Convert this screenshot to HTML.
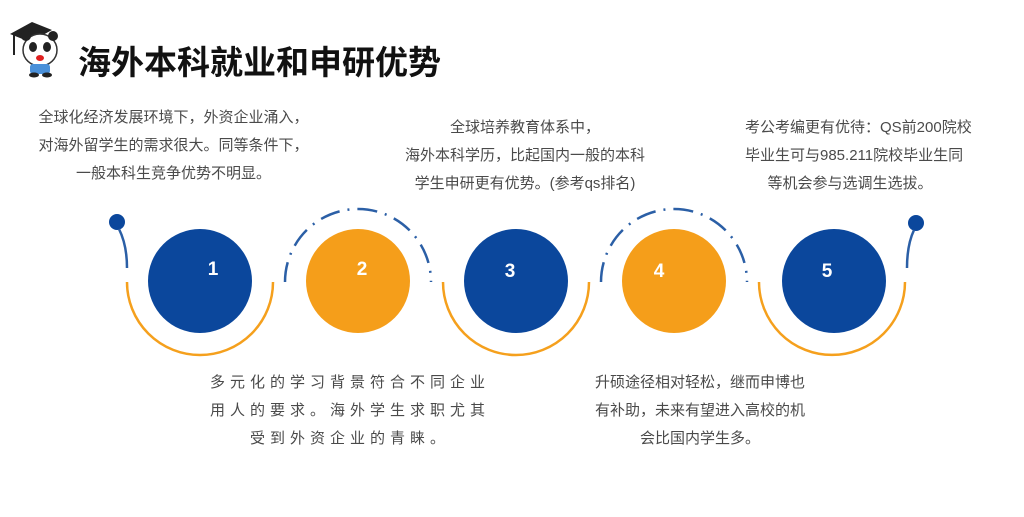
<!DOCTYPE html>
<html><head><meta charset="utf-8"><style>
body{margin:0;width:1024px;height:517px;background:#fff;overflow:hidden;position:relative;font-family:"Liberation Sans","Noto Sans CJK SC",sans-serif;}
.t{position:absolute;color:#4a4a4a;font-size:15px;line-height:28px;text-align:center;white-space:nowrap;}
</style></head><body>
<svg width="1024" height="517" style="position:absolute;left:0;top:0">
  <g>
    <polygon points="10,34 32,22 52,30 30,42" fill="#222"/>
    <line x1="14" y1="35" x2="14" y2="55" stroke="#222" stroke-width="2"/>
    <ellipse cx="40" cy="50" rx="17" ry="16" fill="#fff" stroke="#333" stroke-width="1.5"/>
    <circle cx="26" cy="36" r="5" fill="#222"/><circle cx="53" cy="36" r="5" fill="#222"/>
    <ellipse cx="33" cy="47" rx="4" ry="5" fill="#222"/><ellipse cx="47" cy="47" rx="4" ry="5" fill="#222"/>
    <ellipse cx="40" cy="58" rx="4" ry="3" fill="#e02020"/>
    <rect x="30" y="64" width="20" height="10" rx="3" fill="#4a90d9"/>
    <ellipse cx="34" cy="75" rx="5" ry="2.5" fill="#222"/><ellipse cx="47" cy="75" rx="5" ry="2.5" fill="#222"/>
  </g>
  <text x="78" y="74" font-size="33" font-weight="bold" fill="#111" font-family="Liberation Sans, Noto Sans CJK SC, sans-serif">海外本科就业和申研优势</text>

  <g fill="none" stroke="#f5a01d" stroke-width="2.5">
    <path d="M127,282 A73,73 0 0 0 273,282"/>
    <path d="M443,282 A73,73 0 0 0 589,282"/>
    <path d="M759,282 A73,73 0 0 0 905,282"/>
  </g>
  <g fill="none" stroke="#2b5fa6" stroke-width="2.5" stroke-dasharray="20,8,2,8">
    <path d="M285,282 A73,73 0 0 1 431,282"/>
    <path d="M601,282 A73,73 0 0 1 747,282"/>
  </g>
  <circle cx="117" cy="222" r="8" fill="#0b479c"/>
  <path d="M119,229 Q127,245 127,268" fill="none" stroke="#2b5fa6" stroke-width="2.5"/>
  <circle cx="916" cy="223" r="8" fill="#0b479c"/>
  <path d="M914,230 Q907,245 907,268" fill="none" stroke="#2b5fa6" stroke-width="2.5"/>

  <circle cx="200" cy="281" r="52" fill="#0b479c"/>
  <circle cx="358" cy="281" r="52" fill="#f59e1a"/>
  <circle cx="516" cy="281" r="52" fill="#0b479c"/>
  <circle cx="674" cy="281" r="52" fill="#f59e1a"/>
  <circle cx="834" cy="281" r="52" fill="#0b479c"/>
  <g fill="#fff" font-size="19" font-weight="bold" text-anchor="middle" font-family="Liberation Sans, sans-serif">
    <text x="213" y="275">1</text>
    <text x="362" y="275">2</text>
    <text x="510" y="277">3</text>
    <text x="659" y="277">4</text>
    <text x="827" y="277">5</text>
  </g>
</svg>
<div class="t" style="left:20px;width:307px;top:104px">全球化经济发展环境下，外资企业涌入，<br>对海外留学生的需求很大。同等条件下，<br>一般本科生竞争优势不明显。</div>
<div class="t" style="left:385px;width:280px;top:114px">全球培养教育体系中，<br>海外本科学历，比起国内一般的本科<br>学生申研更有优势。(参考qs排名)</div>
<div class="t" style="left:745px;width:210px;top:114px">考公考编更有优待：QS前200院校<br>毕业生可与985.211院校毕业生同<br>等机会参与选调生选拔。</div>
<div class="t" style="left:195px;width:310px;top:369px;letter-spacing:5px">多元化的学习背景符合不同企业<br>用人的要求。海外学生求职尤其<br>受到外资企业的青睐。</div>
<div class="t" style="left:570px;width:260px;top:369px">升硕途径相对轻松，继而申博也<br>有补助，未来有望进入高校的机<br>会比国内学生多。</div>
</body></html>
